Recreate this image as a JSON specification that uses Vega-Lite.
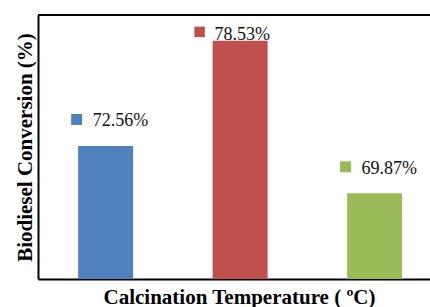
{
  "$schema": "https://vega.github.io/schema/vega-lite/v6.json",
  "autosize": "none",
  "width": 392,
  "height": 264,
  "padding": {"left": 38, "top": 15, "right": 0, "bottom": 28},
  "background": "white",
  "config": {"view": {"stroke": null}},
  "data": {"values": [
    {"temp": "T1", "conversion": 72.56, "label": "72.56%"},
    {"temp": "T2", "conversion": 78.53, "label": "78.53%"},
    {"temp": "T3", "conversion": 69.87, "label": "69.87%"}
  ]},
  "encoding": {
    "x": {"field": "temp", "type": "nominal",
      "scale": {"paddingInner": 0.591, "paddingOuter": 0.253, "align": 0.59},
      "axis": {"title": "Calcination Temperature ( ºC)", "labels": false, "ticks": false,
        "domainColor": "#000", "domainWidth": 2,
        "titleFont": "Liberation Serif", "titleFontSize": 21, "titleFontWeight": "bold", "titleColor": "#000",
        "titlePadding": 7, "titleX": 201}},
    "y": {"field": "conversion", "type": "quantitative",
      "scale": {"domain": [65, 80], "zero": false, "nice": false},
      "axis": {"title": "Biodiesel Conversion (%)", "labels": false, "ticks": false, "grid": false,
        "domainColor": "#000", "domainWidth": 2,
        "titleFont": "Liberation Serif", "titleFontSize": 21, "titleFontWeight": "bold", "titleColor": "#000",
        "titlePadding": 3}},
    "color": {"field": "temp", "type": "nominal",
      "scale": {"domain": ["T1", "T2", "T3"], "range": ["#4F81BD", "#C0504D", "#9BBB59"]},
      "legend": null}
  },
  "layer": [
    {"mark": {"type": "bar", "clip": true}, "encoding": {"y2": {"datum": 65}}},
    {"mark": {"type": "rule", "color": "#000", "strokeWidth": 2},
      "encoding": {"y": {"datum": 80}, "x": null, "color": null}},
    {"transform": [{"filter": "datum.temp !== 'T2'"}],
      "mark": {"type": "point", "shape": "square", "filled": true, "opacity": 1, "size": 121},
      "encoding": {"x": {"field": "temp", "type": "nominal", "bandPosition": 0},
        "xOffset": {"value": -1.5}, "yOffset": {"value": -26.5}}},
    {"transform": [{"filter": "datum.temp !== 'T2'"}],
      "mark": {"type": "text", "align": "left", "baseline": "alphabetic", "dx": 14.5, "dy": -19.5,
        "font": "Liberation Serif", "fontSize": 18},
      "encoding": {"x": {"field": "temp", "type": "nominal", "bandPosition": 0}, "text": {"field": "label"}, "color": {"value": "#111"}}},
    {"transform": [{"filter": "datum.temp === 'T2'"}],
      "mark": {"type": "point", "shape": "square", "filled": true, "opacity": 1, "size": 110},
      "encoding": {"x": {"field": "temp", "type": "nominal", "bandPosition": 0},
        "xOffset": {"value": -13}, "yOffset": {"value": -9}}},
    {"transform": [{"filter": "datum.temp === 'T2'"}],
      "mark": {"type": "text", "align": "left", "baseline": "alphabetic", "dx": 2, "dy": -1,
        "font": "Liberation Serif", "fontSize": 18},
      "encoding": {"x": {"field": "temp", "type": "nominal", "bandPosition": 0}, "text": {"field": "label"}, "color": {"value": "#111"}}}
  ]
}
